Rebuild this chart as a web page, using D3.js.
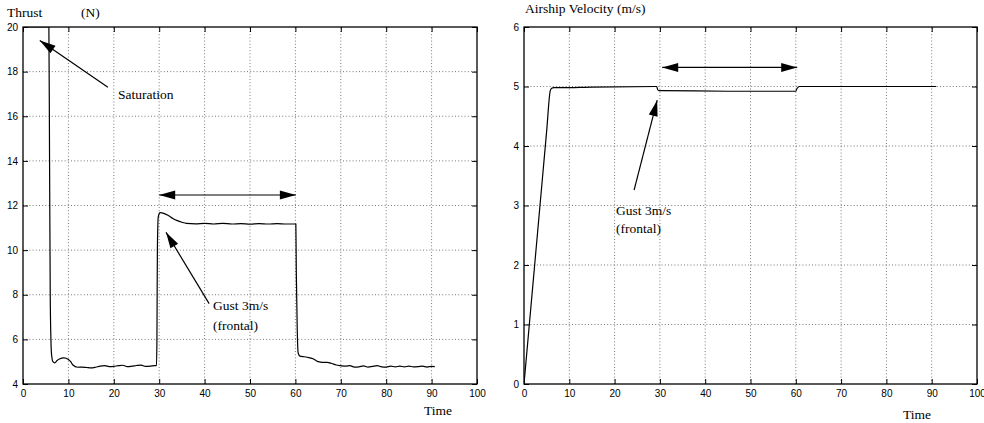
<!DOCTYPE html>
<html>
<head>
<meta charset="utf-8">
<script src="https://cdn.jsdelivr.net/npm/d3@7"></script>
<style>
  html, body { margin: 0; padding: 0; background: #fff; }
  svg { display: block; }
  .tick text { font-family: "Liberation Sans", Arial, Helvetica, sans-serif; font-size: 10px; fill: #000; }
  .lbl { font-family: "Liberation Serif", "Times New Roman", Times, serif; font-size: 13.5px; fill: #000; }
</style>
</head>
<body>
<svg id="chart" width="984" height="423"></svg>
<script>
// Time axis ticks shared by both panels
const timeTicks = [0, 10, 20, 30, 40, 50, 60, 70, 80, 90, 100];
const thrustTicks = [4, 6, 8, 10, 12, 14, 16, 18, 20];
const velocityTicks = [0, 1, 2, 3, 4, 5, 6];

// Thrust response (N): saturation at start, frontal gust between t=30 and t=60
const thrustTime = [0, 5.7, 5.85, 6.0, 6.15, 6.3, 6.6, 7, 7.5, 8, 9, 10, 10.5, 11, 12, 13, 14, 15, 16, 17, 18, 19, 20, 21, 22, 23, 24, 25, 26, 27, 28, 29, 29.4,
  29.5, 29.6, 29.8, 30.2, 31, 32, 33, 34, 35, 36, 38, 40, 42, 44, 46, 48, 50, 52, 54, 56, 58, 60.1,
  60.2, 60.4, 60.6, 61, 62, 63, 64, 65, 66, 67, 68, 69, 70, 71, 72, 73, 74, 75, 76, 77, 78, 79, 80, 81, 82, 83, 84, 85, 86, 87, 88, 89, 90, 90.7];
const thrustValues = [20, 20, 14, 8, 6, 5.3, 5.0, 4.95, 5.05, 5.12, 5.17, 5.1, 5.0, 4.85, 4.75, 4.76, 4.74, 4.72, 4.75, 4.8, 4.82, 4.78, 4.79, 4.82, 4.84, 4.78, 4.8, 4.83, 4.85, 4.79, 4.8, 4.82, 4.82,
  6, 10, 11.5, 11.68, 11.65, 11.55, 11.42, 11.32, 11.25, 11.2, 11.18, 11.2, 11.17, 11.2, 11.17, 11.19, 11.16, 11.19, 11.17, 11.19, 11.17, 11.17,
  9, 6.5, 5.4, 5.25, 5.22, 5.18, 5.12, 5.0, 4.97, 4.97, 4.92, 4.85, 4.82, 4.8, 4.82, 4.76, 4.77, 4.81, 4.76, 4.79, 4.82, 4.77, 4.76, 4.8, 4.77, 4.8, 4.77, 4.8, 4.77, 4.78, 4.8, 4.76, 4.79, 4.78];

// Airship velocity (m/s)
const velocityTime = [0, 1, 2, 3, 4, 5, 5.8, 6.1, 6.6, 8, 15, 29.3, 29.5, 29.8, 30.5, 45, 60, 60.3, 60.8, 91];
const velocityValues = [0, 0.85, 1.7, 2.55, 3.4, 4.25, 4.93, 4.97, 4.98, 4.98, 4.99, 5.0, 4.95, 4.93, 4.93, 4.92, 4.92, 4.97, 5.0, 5.0];

const svg = d3.select("#chart");

function panel(cfg) {
  const x = d3.scaleLinear().domain([0, 100]).range([cfg.left, cfg.right]);
  const y = d3.scaleLinear().domain(cfg.yDomain).range([384, 27]);
  const g = svg.append("g");

  // dotted grid
  const grid = g.append("g").attr("stroke", "#555").attr("stroke-width", 0.8).attr("stroke-dasharray", "1,2.2");
  grid.selectAll(".vx").data(timeTicks.slice(1, -1)).join("line")
    .attr("x1", d => x(d)).attr("x2", d => x(d)).attr("y1", y.range()[0]).attr("y2", y.range()[1]);
  grid.selectAll(".hy").data(cfg.yTicks.slice(1, -1)).join("line")
    .attr("x1", x.range()[0]).attr("x2", x.range()[1]).attr("y1", d => y(d)).attr("y2", d => y(d));

  // axes with inward ticks on all four sides
  g.append("g").attr("transform", `translate(0,${y.range()[0]})`)
    .call(d3.axisBottom(x).tickValues(timeTicks).tickSize(-5).tickSizeOuter(0).tickPadding(6));
  g.append("g").attr("transform", `translate(${x.range()[0]},0)`)
    .call(d3.axisLeft(y).tickValues(cfg.yTicks).tickSize(-5).tickSizeOuter(0).tickPadding(5).tickFormat(d3.format("d")));
  g.append("g").attr("transform", `translate(0,${y.range()[1]})`)
    .call(d3.axisTop(x).tickValues(timeTicks).tickSize(-5).tickSizeOuter(0).tickFormat(""));
  g.append("g").attr("transform", `translate(${x.range()[1]},0)`)
    .call(d3.axisRight(y).tickValues(cfg.yTicks).tickSize(-5).tickSizeOuter(0).tickFormat(""));
  g.selectAll(".domain").remove();
  g.selectAll(".tick line").attr("stroke", "#000").attr("stroke-width", 1);

  // frame
  g.append("rect").attr("x", x.range()[0]).attr("y", y.range()[1])
    .attr("width", x.range()[1] - x.range()[0]).attr("height", y.range()[0] - y.range()[1])
    .attr("fill", "none").attr("stroke", "#000").attr("stroke-width", 1.3);

  // clip and series line
  const clipId = "clip" + cfg.id;
  svg.append("clipPath").attr("id", clipId).append("rect")
    .attr("x", x.range()[0]).attr("y", y.range()[1])
    .attr("width", x.range()[1] - x.range()[0]).attr("height", y.range()[0] - y.range()[1]);
  const pts = cfg.t.map((t, i) => [t, cfg.v[i]]);
  g.append("path").datum(pts)
    .attr("clip-path", `url(#${clipId})`)
    .attr("fill", "none").attr("stroke", "#000").attr("stroke-width", 1.2)
    .attr("d", d3.line().x(d => x(d[0])).y(d => y(d[1])).curve(d3.curveMonotoneX));

  return { g, x, y };
}

function arrowHead(g, x1, y1, x2, y2, len, half) {
  const a = Math.atan2(y2 - y1, x2 - x1);
  const bx = x2 - len * Math.cos(a), by = y2 - len * Math.sin(a);
  const px = -Math.sin(a) * half, py = Math.cos(a) * half;
  g.append("path")
    .attr("d", `M${x2},${y2}L${bx + px},${by + py}L${bx - px},${by - py}Z`)
    .attr("fill", "#000");
}

function arrow(g, x1, y1, x2, y2, both) {
  g.append("line").attr("x1", x1).attr("y1", y1).attr("x2", x2).attr("y2", y2)
    .attr("stroke", "#000").attr("stroke-width", 1.2);
  arrowHead(g, x1, y1, x2, y2, 16, 4.5);
  if (both) arrowHead(g, x2, y2, x1, y1, 16, 4.5);
}

// Left panel: thrust
const P1 = panel({ id: 1, left: 23, right: 477, yDomain: [4, 20], yTicks: thrustTicks, t: thrustTime, v: thrustValues });
// Right panel: velocity
const P2 = panel({ id: 2, left: 524, right: 977, yDomain: [0, 6], yTicks: velocityTicks, t: velocityTime, v: velocityValues });

// Gust interval markers
arrow(P1.g, P1.x(30), P1.y(12.47), P1.x(60.1), P1.y(12.47), true);
arrow(P2.g, P2.x(30.5), P2.y(5.32), P2.x(60.3), P2.y(5.32), true);

// Callout arrows
arrow(P1.g, P1.x(18.7), P1.y(17.3), P1.x(3.7), P1.y(19.4), false);
arrow(P1.g, P1.x(41), P1.y(7.6), P1.x(31.5), P1.y(10.8), false);
arrow(P2.g, P2.x(24.3), P2.y(3.26), P2.x(29.4), P2.y(4.77), false);

// Text labels
const labels = [
  { x: 7, y: 17, s: "Thrust" },
  { x: 81, y: 17, s: "(N)" },
  { x: 525, y: 13, s: "Airship Velocity (m/s)" },
  { x: 118, y: 99, s: "Saturation" },
  { x: 213, y: 310, s: "Gust 3m/s" },
  { x: 213, y: 330, s: "(frontal)" },
  { x: 616, y: 215, s: "Gust 3m/s" },
  { x: 616, y: 233, s: "(frontal)" },
  { x: 424, y: 415, s: "Time" },
  { x: 903, y: 419, s: "Time" }
];
svg.append("g").selectAll("text").data(labels).join("text")
  .attr("class", "lbl").attr("x", d => d.x).attr("y", d => d.y).text(d => d.s);
</script>
</body>
</html>
